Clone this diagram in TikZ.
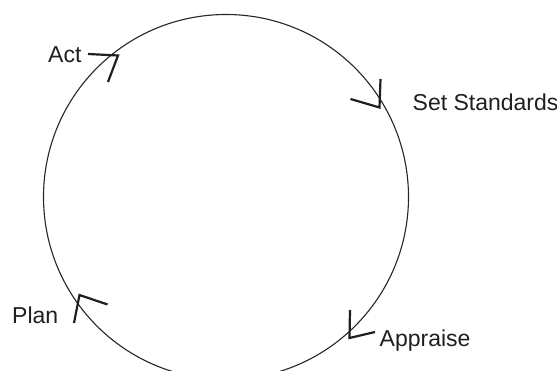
\documentclass[tikz,border=0pt]{standalone}
\usepackage{fontspec}
\setmainfont{Liberation Sans}
\begin{document}
\begin{tikzpicture}[x=1pt,y=-1pt,
  lbl/.style={inner sep=0pt, anchor=base west, text=black!88,
              font=\fontsize{23}{27}\selectfont},
  ring/.style={line width=1.1pt, draw=black!85},
  chevron/.style={line width=2.2pt, draw=black!88, line join=miter, line cap=butt}]
  \useasboundingbox[fill=white] (0,0) rectangle (557,371);
  \clip (0,0) rectangle (557,371);

  % the cycle
  \coordinate (c) at (226,197);
  \draw[ring] (c) circle [radius=182.5];

  % stage labels
  \node[lbl] (act)  at (48,62.5)   {Act};
  \node[lbl] (set)  at (412.5,111) {Set Standards};
  \node[lbl] (plan) at (12,324)    {Plan};
  \node[lbl] (appr) at (379.5,347) {Appraise};

  % direction marks on the circle
  \draw[chevron] (88,54) -- (118,55.5) -- (108,82);
  \draw[chevron] (380.5,79) -- (379.5,107.5) -- (350.5,99);
  \draw[chevron] (107.5,304.5) -- (79.5,295) -- (74,323);
  \draw[chevron] (350,310) -- (349.5,338) -- (375,332);
\end{tikzpicture}
\end{document}
